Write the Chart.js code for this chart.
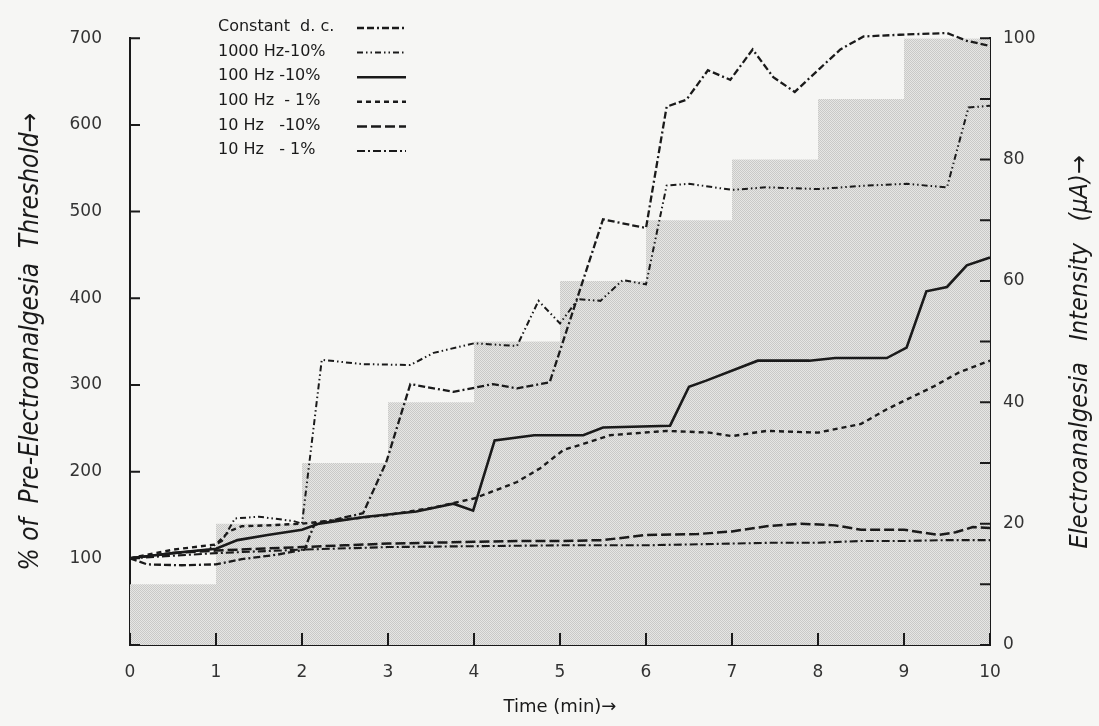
<!DOCTYPE html>
<html lang="en">
<head>
<meta charset="UTF-8">
<title>Electroanalgesia Threshold</title>
<script src="https://cdn.jsdelivr.net/npm/chart.js"></script>
<style>
  body { margin: 0; background: #f6f6f4; }
  canvas { display: block; }
</style>
</head>
<body>
<canvas id="chart" width="1099" height="726"></canvas>
<script>
// tick labels
const timeTicks = [0, 1, 2, 3, 4, 5, 6, 7, 8, 9, 10];
const thresholdTicks = [0, 100, 200, 300, 400, 500, 600, 700];
const currentTicks = [0, 10, 20, 30, 40, 50, 60, 70, 80, 90, 100];

// stimulus current, raised 10 uA every minute (shaded staircase)
const stepTimes = [0, 1, 2, 3, 4, 5, 6, 7, 8, 9, 10];
const stepCurrent = [10, 20, 30, 40, 50, 60, 70, 80, 90, 100, 100];

// % of pre-electroanalgesia threshold
const dcTimes = [0, 0.2, 0.6, 1.0, 1.3, 1.7, 2.03, 2.09, 2.15, 2.4, 2.71, 2.98, 3.26, 3.76, 4.22, 4.5, 4.88, 5.5, 6.0, 6.24, 6.47, 6.72, 6.98, 7.24, 7.48, 7.73, 8.02, 8.26, 8.53, 8.95, 9.5, 9.73, 10];
const dcValues = [100, 93, 92, 93, 99, 104, 110, 126, 140, 145, 152, 211, 301, 292, 301, 296, 303, 491, 481, 621, 629, 663, 652, 687, 655, 638, 665, 687, 702, 704, 706, 697, 691];

const hz1000Times = [0, 0.5, 0.9, 1.07, 1.22, 1.5, 1.9, 2.0, 2.23, 2.7, 3.26, 3.53, 4.0, 4.5, 4.75, 5.0, 5.21, 5.47, 5.73, 6.0, 6.24, 6.5, 7.0, 7.4, 8.0, 8.57, 9.03, 9.5, 9.75, 10];
const hz1000Values = [100, 106, 110, 120, 146, 148, 143, 140, 329, 324, 323, 337, 348, 345, 397, 371, 399, 397, 421, 416, 530, 532, 525, 528, 526, 530, 532, 528, 620, 622];

const hz100HiTimes = [0, 0.5, 1, 1.25, 1.6, 2, 2.2, 2.75, 3.33, 3.76, 3.99, 4.24, 4.7, 5.27, 5.5, 6.28, 6.5, 6.7, 7.3, 7.9, 8.2, 8.8, 9.03, 9.26, 9.5, 9.73, 10];
const hz100HiValues = [100, 106, 111, 121, 127, 133, 140, 148, 154, 163, 155, 236, 242, 242, 251, 253, 298, 305, 328, 328, 331, 331, 343, 408, 413, 438, 447];

const hz100LoTimes = [0, 0.5, 1, 1.15, 1.3, 1.6, 2, 2.5, 3, 3.5, 4, 4.5, 4.77, 5.04, 5.27, 5.58, 6.24, 6.74, 7.0, 7.4, 8.0, 8.5, 8.8, 9.34, 9.65, 10];
const hz100LoValues = [100, 110, 116, 131, 137, 138, 140, 145, 150, 158, 169, 188, 204, 225, 232, 242, 247, 245, 241, 247, 245, 255, 272, 298, 315, 328];

const hz10HiTimes = [0, 0.5, 1, 1.5, 2, 2.5, 3, 3.5, 4, 4.5, 5, 5.5, 6, 6.6, 7, 7.4, 7.8, 8.2, 8.5, 9, 9.4, 9.6, 9.8, 10];
const hz10HiValues = [100, 106, 109, 111, 113, 115, 117, 118, 119, 120, 120, 121, 127, 128, 131, 137, 140, 138, 133, 133, 127, 130, 136, 135];

const hz10LoTimes = [0, 0.5, 1, 1.5, 2, 3, 4, 5, 6, 7, 7.5, 8, 8.5, 9, 9.5, 10];
const hz10LoValues = [100, 103, 106, 108, 110, 113, 114, 115, 115, 117, 118, 118, 120, 120, 121, 121];

const pts = (xs, ys) => xs.map((x, i) => ({ x: x, y: ys[i] }));

// halftone-ish fill for the staircase
function halftone() {
    const c = document.createElement('canvas');
    c.width = 2; c.height = 2;
    const g = c.getContext('2d');
    g.fillStyle = '#e6e6e4';
    g.fillRect(0, 0, 2, 2);
    g.fillStyle = '#c9c9c7';
    g.fillRect(0, 0, 1, 1);
    g.fillRect(1, 1, 1, 1);
    return g.createPattern(c, 'repeat');
}

const ink = '#1a1a1a';
const tickFont = { family: "'DejaVu Sans', sans-serif", size: 17 };
const titleFamily = "'DejaVu Sans Condensed', 'Liberation Sans Narrow', 'DejaVu Sans', sans-serif";

function series(label, xs, ys, dash, width) {
    return {
        label: label,
        data: pts(xs, ys),
        borderColor: ink,
        borderWidth: width,
        borderDash: dash,
        pointRadius: 0,
        tension: 0,
        fill: false,
        yAxisID: 'y',
        clip: 10,
        order: 0
    };
}

// inward tick marks, legend and right-hand title
const extras = {
    id: 'extras',
    afterDatasetsDraw(chart) {
        const { ctx, chartArea: a, scales } = chart;
        ctx.save();
        ctx.strokeStyle = ink;
        ctx.lineWidth = 2;
        ctx.setLineDash([]);
        ctx.beginPath();
        timeTicks.forEach(t => {
            const x = scales.x.getPixelForValue(t);
            ctx.moveTo(x, a.bottom);
            ctx.lineTo(x, a.bottom - 12);
        });
        thresholdTicks.forEach(v => {
            const y = scales.y.getPixelForValue(v);
            ctx.moveTo(a.left, y);
            ctx.lineTo(a.left + 10, y);
        });
        currentTicks.forEach(v => {
            const y = scales.y1.getPixelForValue(v);
            ctx.moveTo(a.right, y);
            ctx.lineTo(a.right - 10, y);
        });
        ctx.stroke();

        // legend: text then line sample
        ctx.font = "16px 'DejaVu Sans', sans-serif";
        ctx.fillStyle = ink;
        ctx.textBaseline = 'middle';
        ctx.textAlign = 'left';
        chart.data.datasets.forEach((ds, i) => {
            if (ds.yAxisID !== 'y') return;
            const y = 27 + i * 24.6;
            ctx.fillText(ds.label, 218, y);
            ctx.beginPath();
            ctx.lineWidth = ds.borderWidth;
            ctx.setLineDash(ds.borderDash || []);
            ctx.moveTo(357, y + 1);
            ctx.lineTo(406, y + 1);
            ctx.stroke();
        });

        // right axis title reads bottom to top
        ctx.setLineDash([]);
        ctx.translate(1080, 352);
        ctx.rotate(-Math.PI / 2);
        ctx.textAlign = 'center';
        ctx.font = 'italic 25px ' + titleFamily;
        ctx.fillText('Electroanalgesia   Intensity   (\u00b5A)\u2192', 0, 0);
        ctx.restore();
    }
};

new Chart(document.getElementById('chart'), {
    type: 'line',
    data: {
        datasets: [
            series('Constant  d. c.', dcTimes, dcValues, [7, 3, 7, 3, 2, 3], 2.3),
            series('1000 Hz-10%', hz1000Times, hz1000Values, [6, 3, 1.5, 3, 1.5, 3], 2),
            series('100 Hz -10%', hz100HiTimes, hz100HiValues, [], 2.6),
            series('100 Hz  - 1%', hz100LoTimes, hz100LoValues, [5, 4], 2.4),
            series('10 Hz   -10%', hz10HiTimes, hz10HiValues, [10, 4], 2.5),
            series('10 Hz   - 1%', hz10LoTimes, hz10LoValues, [8, 3, 2, 3], 2.1),
            {
                label: 'Electroanalgesia intensity',
                data: pts(stepTimes, stepCurrent),
                stepped: true,
                fill: 'origin',
                backgroundColor: halftone(),
                borderWidth: 0,
                pointRadius: 0,
                yAxisID: 'y1',
                order: 10
            }
        ]
    },
    options: {
        responsive: false,
        animation: false,
        layout: { padding: { top: 22 } },
        plugins: {
            legend: { display: false },
            tooltip: { enabled: false }
        },
        scales: {
            x: {
                type: 'linear',
                min: 0,
                max: 10,
                afterFit: s => { s.height = 81; },
                grid: { display: false, drawTicks: false },
                border: { display: true, color: ink, width: 2 },
                ticks: { stepSize: 1, padding: 17, color: '#333', font: tickFont },
                title: {
                    display: true,
                    text: 'Time (min)\u2192',
                    color: ink,
                    font: { family: "'DejaVu Sans', sans-serif", size: 18 },
                    padding: { bottom: 8 }
                }
            },
            y: {
                position: 'left',
                min: 0,
                max: 700,
                afterFit: s => { s.width = 130; },
                grid: { display: false, drawTicks: false },
                border: { display: true, color: ink, width: 2 },
                ticks: {
                    stepSize: 100,
                    padding: 28,
                    color: '#333',
                    font: tickFont,
                    callback: v => (v === 0 ? '' : v)
                },
                title: {
                    display: true,
                    text: '% of  Pre-Electroanalgesia  Threshold\u2192',
                    color: ink,
                    font: { family: titleFamily, size: 26, style: 'italic' },
                    padding: { top: 16 }
                }
            },
            y1: {
                position: 'right',
                min: 0,
                max: 100,
                afterFit: s => { s.width = 109; },
                grid: { display: false, drawTicks: false },
                border: { display: true, color: ink, width: 2 },
                ticks: {
                    stepSize: 10,
                    padding: 13,
                    color: '#333',
                    font: tickFont,
                    callback: v => (v % 20 === 0 ? v : '')
                }
            }
        }
    },
    plugins: [extras]
});
</script>
</body>
</html>
